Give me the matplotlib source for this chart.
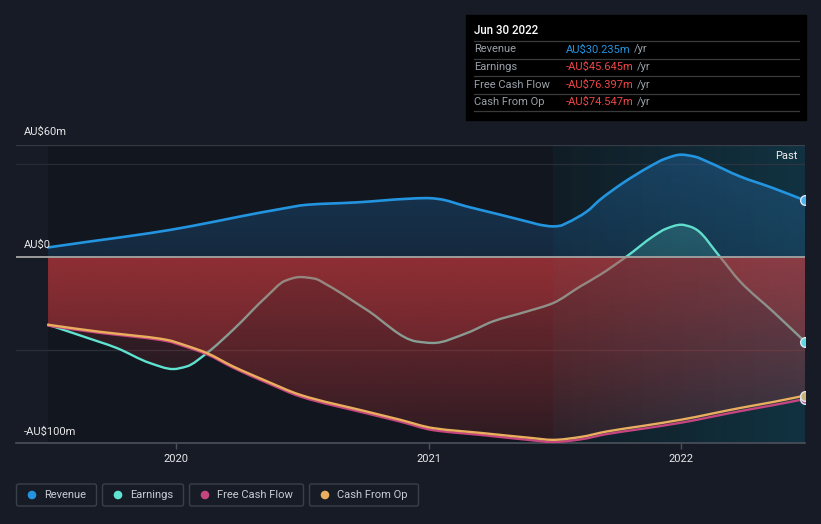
import numpy as np
import matplotlib
matplotlib.use("Agg")
import matplotlib.pyplot as plt
from matplotlib.patches import Rectangle, FancyBboxPatch, Circle, PathPatch
from matplotlib.path import Path

# -----------------------------
# Datos (AU$m, años decimales)
# -----------------------------
rev_years = [2019.493, 2019.659, 2019.897, 2020.055, 2020.253, 2020.412, 2020.518, 2020.716,
             2020.914, 2020.993, 2021.040, 2021.151, 2021.283, 2021.414, 2021.440, 2021.493,
             2021.520, 2021.547, 2021.627, 2021.679, 2021.770, 2021.877, 2021.937, 2022.000,
             2022.056, 2022.102, 2022.234, 2022.364, 2022.491]
rev_vals = [5.0, 8.2, 12.7, 16.3, 21.6, 25.6, 27.9, 29.2,
            31.1, 31.5, 31.0, 27.0, 22.6, 18.1, 17.2, 16.3,
            16.6, 18.1, 24.3, 30.6, 39.6, 48.5, 52.6, 54.8,
            53.7, 51.2, 43.1, 36.9, 30.235]

earn_years = [2019.493, 2019.632, 2019.765, 2019.897, 2019.988, 2020.042, 2020.122, 2020.226,
              2020.359, 2020.432, 2020.491, 2020.550, 2020.597, 2020.755, 2020.953, 2021.018,
              2021.151, 2021.255, 2021.389, 2021.493, 2021.600, 2021.679, 2021.785, 2021.889,
              2021.940, 2022.000, 2022.040, 2022.062, 2022.154, 2022.234, 2022.364, 2022.491]
earn_vals = [-36.5, -42.8, -49.0, -57.1, -60.3, -58.9, -51.7, -39.2,
             -21.3, -12.9, -10.9, -11.8, -15.0, -28.5, -45.5, -46.3,
             -41.0, -34.7, -29.4, -24.9, -16.0, -9.7, 0.2, 10.9,
             15.0, 17.2, 16.0, 14.5, 0.0, -13.3, -29.4, -45.645]

cfo_years = [2019.493, 2019.699, 2019.765, 2019.963, 2020.042, 2020.122, 2020.226, 2020.359,
             2020.491, 2020.755, 2020.887, 2021.018, 2021.216, 2021.400, 2021.493, 2021.600,
             2021.706, 2021.850, 2022.000, 2022.234, 2022.364, 2022.491]
cfo_vals = [-36.5, -40.3, -41.3, -44.6, -47.8, -51.7, -58.9, -66.8,
            -74.1, -83.1, -87.5, -92.0, -94.7, -97.2, -98.3, -96.8,
            -93.8, -90.8, -87.5, -81.2, -78.0, -74.547]

fcf_years = cfo_years
fcf_vals = [-37.0, -40.9, -41.9, -45.3, -48.5, -52.4, -59.6, -67.6,
            -75.0, -84.1, -88.5, -93.1, -95.8, -98.4, -99.5, -98.1,
            -95.2, -92.3, -89.1, -82.9, -79.7, -76.397]

year_ticks = [2020, 2021, 2022]
y_labels = ["AU$60m", "AU$0", "-AU$100m"]
tip_date = "Jun 30 2022"
tip_names = ["Revenue", "Earnings", "Free Cash Flow", "Cash From Op"]
tip_values = ["AU$30.235m", "-AU$45.645m", "-AU$76.397m", "-AU$74.547m"]
past_start = 2021.493

# -----------------------------
# Estilo
# -----------------------------
plt.rcParams["font.family"] = ["Roboto", "DejaVu Sans"]
BG = "#161b26"
C_REV = "#2394df"
C_EARN = "#5fe3d0"
C_FCF = "#c4457f"
C_CFO = "#e9ae5e"
C_RED = "#f04646"
W, H = 821, 524
XMIN, XMAX = 2019.366, 2022.491
YMIN, YMAX = -100, 60

fig = plt.figure(figsize=(W / 100, H / 100), dpi=100, facecolor=BG)
ax = fig.add_axes([16 / W, (H - 443) / H, (805 - 16) / W, (443 - 145) / H])
ax.set_facecolor(BG)


def curve_path(x, y, close=False):
    """Curva suave (bezier monotona) que pasa por los puntos leidos."""
    x = np.asarray(x, float)
    y = np.asarray(y, float)
    h = np.diff(x)
    d = np.diff(y) / h
    m = np.zeros_like(y)
    m[0], m[-1] = d[0], d[-1]
    for i in range(1, len(x) - 1):
        if d[i - 1] * d[i] > 0:
            w1 = 2 * h[i] + h[i - 1]
            w2 = h[i] + 2 * h[i - 1]
            m[i] = (w1 + w2) / (w1 / d[i - 1] + w2 / d[i])
    verts = [(x[0], y[0])]
    codes = [Path.MOVETO]
    for i in range(len(x) - 1):
        verts += [(x[i] + h[i] / 3, y[i] + m[i] * h[i] / 3),
                  (x[i + 1] - h[i] / 3, y[i + 1] - m[i + 1] * h[i] / 3),
                  (x[i + 1], y[i + 1])]
        codes += [Path.CURVE4] * 3
    if close:
        verts += [(x[-1], 0), (x[0], 0), (x[0], y[0])]
        codes += [Path.LINETO, Path.LINETO, Path.CLOSEPOLY]
    return Path(verts, codes)


def draw_line(x, y, color, lw, z):
    ax.add_patch(PathPatch(curve_path(x, y), fill=False, ec=color, lw=lw, zorder=z,
                           capstyle="round", joinstyle="round"))


def rgba(rgb, a0, a1, n=256):
    g = np.zeros((n, 1, 4))
    g[..., :3] = np.array(rgb) / 255
    g[:, 0, 3] = np.linspace(a0, a1, n)
    return g


def gradient_area(x, y, pos_rgb, pos_a, neg_rgb, neg_a, z):
    path = curve_path(x, y, close=True)
    if pos_rgb is not None:
        im = ax.imshow(rgba(pos_rgb, pos_a[0], pos_a[1]), extent=[XMIN, XMAX, 0, YMAX],
                       aspect="auto", origin="upper", zorder=z, interpolation="bilinear")
        im.set_clip_path(path, ax.transData)
    if neg_rgb is not None:
        im = ax.imshow(rgba(neg_rgb, neg_a[0], neg_a[1]), extent=[XMIN, XMAX, YMIN, 0],
                       aspect="auto", origin="upper", zorder=z, interpolation="bilinear")
        im.set_clip_path(path, ax.transData)


# fondo: zona con datos más oscura, zona "past" con tono azulado
ax.axvspan(rev_years[0], past_start, color="#12161e", lw=0, zorder=0)
hl = np.zeros((1, 256, 4))
hl[0, :, 0] = np.linspace(14, 5, 256) / 255
hl[0, :, 1] = np.linspace(26, 40, 256) / 255
hl[0, :, 2] = np.linspace(34, 54, 256) / 255
hl[0, :, 3] = 1
ax.imshow(hl, extent=[past_start, XMAX, YMIN, YMAX], aspect="auto", zorder=0.5,
          interpolation="bilinear")

# rejilla
for yv, c in [(50, "#262b35"), (-50, "#2b2f38"), (60, "#343944")]:
    ax.axhline(yv, color=c, lw=0.9, zorder=1)

# áreas
gradient_area(rev_years, rev_vals, (30, 100, 160), (0.45, 0.25), None, None, 2)
gradient_area(earn_years, earn_vals, (90, 220, 200), (0.30, 0.18), (197, 58, 62), (0.28, 0.05), 2.1)
draw_line(earn_years, earn_vals, C_EARN, 1.7, 2.2)
gradient_area(cfo_years, cfo_vals, None, None, (197, 58, 62), (0.36, 0.08), 2.3)
gradient_area(fcf_years, fcf_vals, None, None, (197, 58, 62), (0.36, 0.08), 2.3)

# velo claro sobre la zona "past"
ov = np.zeros((1, 256, 4))
ov[0, :, :3] = np.array([130, 150, 170]) / 255
ov[0, :, 3] = np.linspace(0.03, 0.10, 256)
ax.imshow(ov, extent=[past_start, XMAX, YMIN, YMAX], aspect="auto", zorder=2.5,
          interpolation="bilinear")

ax.axhline(0, color="#9c9c9c", lw=1.4, zorder=2.6)

draw_line(fcf_years, fcf_vals, C_FCF, 1.7, 3)
draw_line(cfo_years, cfo_vals, C_CFO, 1.7, 3.1)
draw_line(rev_years, rev_vals, C_REV, 1.9, 3.2)

# marcadores finales
for xs, ys, fc in [(fcf_years, fcf_vals, "#b85a9a"), (cfo_years, cfo_vals, "#c9b476"),
                   (earn_years, earn_vals, "#5fd8e0"), (rev_years, rev_vals, "#4fb0ee")]:
    ax.plot(xs[-1], ys[-1], "o", ms=7, mfc=fc, mec="#dfe6ee", mew=1.0, zorder=4)

ax.set_xlim(XMIN, XMAX)
ax.set_ylim(YMIN, YMAX)
for s in ["top", "left", "right"]:
    ax.spines[s].set_visible(False)
ax.spines["bottom"].set_color("#4b515b")
ax.spines["bottom"].set_linewidth(1.2)
ax.set_yticks([])
ax.set_xticks(year_ticks)
ax.set_xticklabels([str(y) for y in year_ticks], color="#e8e8e8", fontsize=8)
ax.tick_params(axis="x", length=4, width=1, color="#4b515b", pad=4)

# -----------------------------
# Capa de textos en pixeles
# -----------------------------
ov_ax = fig.add_axes([0, 0, 1, 1], facecolor="none")
ov_ax.set_xlim(0, W)
ov_ax.set_ylim(H, 0)
ov_ax.axis("off")

for lab, yp in zip(y_labels, [132, 245, 432]):
    ov_ax.text(24, yp, lab, color="#e8e8e8", fontsize=8, va="center", ha="left")
ov_ax.text(797, 156, "Past", color="#f0f0f0", fontsize=8, va="center", ha="right")

# tooltip
ov_ax.add_patch(Rectangle((466, 15), 340, 105, color="#000000", zorder=5))
ov_ax.text(474, 31, tip_date, color="#ffffff", fontsize=8.3, va="center", ha="left",
           fontweight="medium", zorder=6)
for yl in [41, 58.5, 76, 93.5, 111]:
    ov_ax.plot([474, 799], [yl, yl], color="#3a3a3a", lw=0.9, zorder=6)
renderer = fig.canvas.get_renderer()
for i, (nm, val) in enumerate(zip(tip_names, tip_values)):
    yp = 49.5 + i * 17.5
    ov_ax.text(474, yp, nm, color="#9aa0a8", fontsize=8, va="center", ha="left", zorder=6)
    t = ov_ax.text(566, yp, val, color=C_REV if i == 0 else C_RED, fontsize=8,
                   va="center", ha="left", zorder=6)
    bb = t.get_window_extent(renderer)
    ov_ax.text(bb.x1 + 3, H - yp, "/yr", color="#9aa0a8", fontsize=8, va="center",
               ha="left", zorder=6, transform=None)

# leyenda
legend_items = [("Revenue", C_REV, 16, 97), ("Earnings", C_EARN, 102, 184),
                ("Free Cash Flow", C_FCF, 189, 304), ("Cash From Op", C_CFO, 309, 419)]
for nm, c, x0, x1 in legend_items:
    ov_ax.add_patch(FancyBboxPatch((x0 + 0.5, 484), x1 - x0 - 1, 22,
                                   boxstyle="round,pad=0,rounding_size=2",
                                   fc="none", ec="#3a404a", lw=1.0))
    ov_ax.add_patch(Circle((x0 + 16, 495), 3.6, color=c))
    ov_ax.text(x0 + 28, 495.5, nm, color="#c8ccd2", fontsize=8, va="center", ha="left")

fig.savefig("out.png", dpi=100, facecolor=BG)
